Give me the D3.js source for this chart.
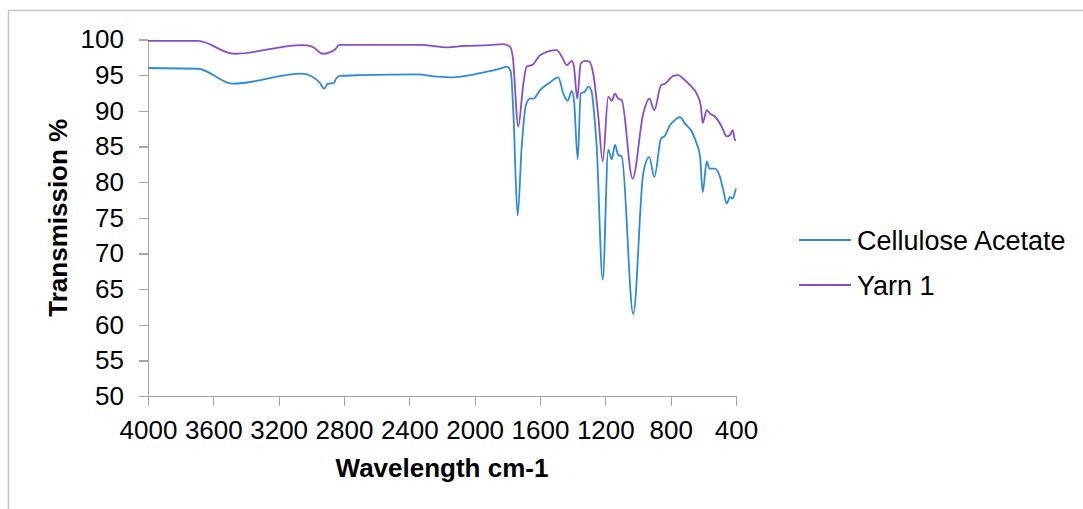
<!DOCTYPE html>
<html>
<head>
<meta charset="utf-8">
<script src="https://cdn.jsdelivr.net/npm/d3@7"></script>
<style>
  html, body { margin: 0; padding: 0; background: #fff; }
  svg { display: block; font-family: "Liberation Sans", Arial, sans-serif; }
  .axis path, .axis line { stroke: #a6a6a6; stroke-width: 1.3; shape-rendering: crispEdges; }
  .axis text { fill: #000; font-size: 26px; }
</style>
</head>
<body>
<svg id="chart" width="1083" height="509"></svg>
<script>
// series names
const seriesNames = ["Cellulose Acetate", "Yarn 1"];

// Cellulose Acetate: wavenumber (cm-1) and transmission (%)
const acetateWave = [4000, 3694, 3480, 3057, 2996, 2947, 2922, 2898, 2861, 2849, 2824, 2702, 2353, 2231, 2133, 2029, 1924, 1845, 1804, 1779, 1763, 1737, 1712, 1686, 1661, 1641, 1600, 1549, 1488, 1457, 1430, 1406, 1392, 1369, 1351, 1325, 1304, 1284, 1269, 1253, 1216, 1182, 1161, 1141, 1121, 1100, 1029, 968, 931, 900, 859, 835, 804, 784, 743, 712, 671, 641, 620, 604, 579, 563, 529, 502, 478, 457, 437, 420, 406, 400];
const acetateT = [96.0, 95.9, 93.8, 95.2, 94.8, 93.9, 93.1, 93.8, 93.9, 94.5, 94.9, 95.0, 95.1, 94.8, 94.7, 95.0, 95.5, 95.9, 96.2, 95.5, 89.7, 75.3, 85.0, 90.8, 91.7, 91.7, 92.9, 93.8, 94.7, 92.4, 91.4, 92.8, 91.5, 83.2, 92.4, 92.7, 93.4, 92.7, 89.7, 85.0, 66.3, 84.5, 83.2, 85.2, 83.8, 83.6, 61.5, 81.2, 83.5, 80.7, 86.1, 86.5, 88.0, 88.5, 89.1, 88.2, 87.1, 85.4, 83.6, 78.6, 82.9, 81.9, 81.9, 81.0, 78.9, 77.0, 77.9, 77.7, 78.6, 79.1];

// Yarn 1: wavenumber (cm-1) and transmission (%)
const yarnWave = [4000, 3694, 3473, 3057, 2996, 2929, 2855, 2837, 2824, 2335, 2163, 2071, 1906, 1827, 1784, 1767, 1733, 1704, 1682, 1643, 1600, 1498, 1467, 1435, 1406, 1392, 1372, 1351, 1325, 1298, 1274, 1243, 1216, 1182, 1161, 1141, 1121, 1100, 1033, 968, 931, 900, 859, 835, 804, 784, 753, 723, 682, 641, 616, 604, 579, 559, 529, 488, 457, 437, 420, 406, 400];
const yarnT = [99.8, 99.8, 98.0, 99.2, 99.0, 98.0, 98.6, 99.1, 99.25, 99.25, 98.9, 99.1, 99.2, 99.35, 99.0, 97.6, 87.8, 93.4, 96.2, 96.5, 97.8, 98.5, 97.6, 96.4, 97.0, 96.2, 91.7, 96.6, 97.0, 96.9, 95.2, 89.2, 82.9, 92.0, 91.4, 92.4, 91.7, 91.5, 80.5, 89.6, 91.7, 90.1, 93.6, 93.8, 94.5, 94.9, 95.0, 94.5, 93.6, 92.4, 90.8, 88.3, 90.1, 89.6, 89.2, 87.8, 86.4, 86.6, 87.3, 85.9, 85.9];

const seriesColors = ["#2c8ad6", "#8a4cc4"];
const xTicks = [4000, 3600, 3200, 2800, 2400, 2000, 1600, 1200, 800, 400];
const yTicks = [50, 55, 60, 65, 70, 75, 80, 85, 90, 95, 100];

const plot = {left: 148, right: 736, top: 39.5, bottom: 396};

const svg = d3.select("#chart");

// outer frame (only left and top edges fall inside the picture)
svg.append("rect")
  .attr("x", 8.5).attr("y", 10.5)
  .attr("width", 1200).attr("height", 700)
  .attr("fill", "none")
  .attr("stroke", "#c4c4c4")
  .attr("stroke-width", 1.5);

const x = d3.scaleLinear().domain([4000, 400]).range([plot.left, plot.right]);
const y = d3.scaleLinear().domain([50, 100]).range([plot.bottom, plot.top]);

svg.append("g")
  .attr("class", "x axis")
  .attr("transform", "translate(0," + plot.bottom + ")")
  .call(d3.axisBottom(x).tickValues(xTicks).tickFormat(d3.format("d"))
    .tickSize(10).tickSizeOuter(0).tickPadding(15))
  .call(g => g.selectAll("text").attr("dy", "0.71em"));

svg.append("g")
  .attr("class", "y axis")
  .attr("transform", "translate(" + plot.left + ",0)")
  .call(d3.axisLeft(y).tickValues(yTicks).tickFormat(d3.format("d"))
    .tickSize(9).tickSizeOuter(0).tickPadding(15));

// axis titles
svg.append("text")
  .attr("transform", "translate(67," + ((plot.top + plot.bottom) / 2) + ") rotate(-90)")
  .attr("text-anchor", "middle")
  .attr("font-size", 26)
  .attr("font-weight", "bold")
  .text("Transmission %");

svg.append("text")
  .attr("x", (plot.left + plot.right) / 2)
  .attr("y", 477)
  .attr("text-anchor", "middle")
  .attr("font-size", 26)
  .attr("font-weight", "bold")
  .text("Wavelength cm-1");

// spectra
const line = d3.line()
  .x(d => x(d[0]))
  .y(d => y(d[1]))
  .curve(d3.curveMonotoneX);

const series = [
  d3.zip(acetateWave, acetateT),
  d3.zip(yarnWave, yarnT)
];

svg.selectAll(".spectrum")
  .data(series)
  .enter().append("path")
    .attr("class", "spectrum")
    .attr("fill", "none")
    .attr("stroke", (d, i) => seriesColors[i])
    .attr("stroke-width", 1.8)
    .attr("stroke-linejoin", "round")
    .attr("d", line);

// legend
const legend = svg.append("g")
  .selectAll("g")
  .data(seriesNames)
  .enter().append("g")
    .attr("transform", (d, i) => "translate(799," + (240 + i * 45) + ")");

legend.append("line")
  .attr("x1", 0).attr("x2", 52)
  .attr("stroke", (d, i) => seriesColors[i])
  .attr("stroke-width", 1.8);

legend.append("text")
  .attr("x", 58)
  .attr("y", 10)
  .attr("font-size", 27)
  .text(d => d);
</script>
</body>
</html>
